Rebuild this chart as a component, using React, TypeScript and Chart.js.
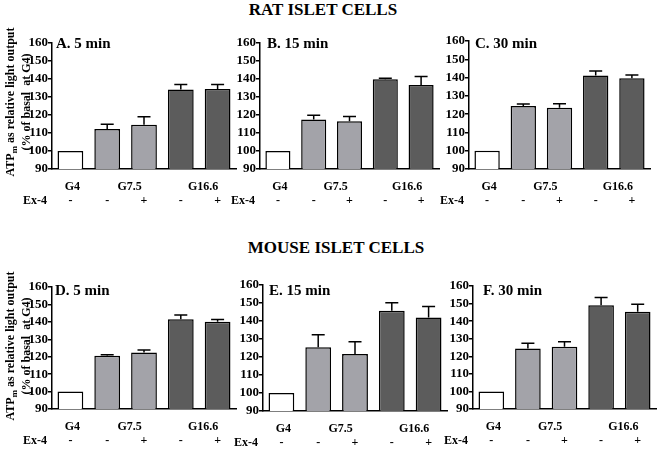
import React, { useEffect, useRef } from "react";
import { Chart, registerables } from "chart.js";

Chart.register(...registerables);

// ---------- data ----------
const categories = ["G4", "G7.5 -", "G7.5 +", "G16.6 -", "G16.6 +"];
const ex4Signs = ["-", "-", "+", "-", "+"];
const groupLabels = ["G4", "G7.5", "G16.6"];
const groupMembers = [[0], [1, 2], [3, 4]];
const yMin = 90;
const yMax = 160;
const yStep = 10;

const ratA5 = [100, 112.2, 114.6, 134.2, 134.4];
const ratA5Err = [0, 2.6, 4.4, 2.7, 2.5];
const ratB15 = [100, 117.5, 116.5, 139.8, 136.6];
const ratB15Err = [0, 2.4, 2.7, 0.6, 4.8];
const ratC30 = [100, 124.4, 123.5, 141.2, 139.6];
const ratC30Err = [0, 1.2, 2.2, 2.4, 1.8];
const mouseD5 = [100, 120.5, 122.4, 141.5, 140.0];
const mouseD5Err = [0, 0.6, 1.4, 2.5, 1.3];
const mouseE15 = [100, 125.4, 121.6, 145.7, 142.0];
const mouseE15Err = [0, 6.9, 6.9, 4.4, 6.0];
const mouseF30 = [100, 124.5, 125.4, 149.1, 145.4];
const mouseF30Err = [0, 2.9, 2.9, 4.4, 4.2];

const barColors = ["#ffffff", "#a3a3a9", "#a3a3a9", "#5c5c5c", "#5c5c5c"];
const FONT = '"Liberation Serif", "Times New Roman", serif';

type PanelCfg = {
  title: string;
  values: number[];
  errors: number[];
  axisX: number;
  top: number;
  bottom: number;
  right: number;
  titleX: number;
  titleY: number;
  yW: number;
};

const panels: PanelCfg[] = [
  { title: "A. 5 min", values: ratA5, errors: ratA5Err, axisX: 52, top: 43, bottom: 169, right: 236, titleX: 56, titleY: 48, yW: 52 },
  { title: "B. 15 min", values: ratB15, errors: ratB15Err, axisX: 260, top: 43, bottom: 169, right: 439, titleX: 267, titleY: 48, yW: 40 },
  { title: "C. 30 min", values: ratC30, errors: ratC30Err, axisX: 469, top: 41, bottom: 169, right: 650, titleX: 475, titleY: 48, yW: 40 },
  { title: "D. 5 min", values: mouseD5, errors: mouseD5Err, axisX: 52, top: 287, bottom: 409, right: 236, titleX: 55, titleY: 295, yW: 52 },
  { title: "E. 15 min", values: mouseE15, errors: mouseE15Err, axisX: 263, top: 285, bottom: 411, right: 447, titleX: 269, titleY: 295, yW: 40 },
  { title: "F. 30 min", values: mouseF30, errors: mouseF30Err, axisX: 473, top: 286, bottom: 409, right: 656, titleX: 483, titleY: 295, yW: 40 },
];

const PAD_TOP = 10;
const PAD_BOTTOM = 42;
const PAD_RIGHT = 4;

const annotPlugin = {
  id: "annot",
  afterDatasetsDraw(chart: any, _args: any, opts: any) {
    const p: PanelCfg = opts.panel;
    const cLeft: number = opts.cLeft;
    const cTop: number = opts.cTop;
    const { ctx, chartArea } = chart;
    const x = chart.scales.x;
    const y = chart.scales.y;
    ctx.save();
    // error bars (upper only)
    ctx.strokeStyle = "#000";
    ctx.lineWidth = 1.5;
    p.values.forEach((v, i) => {
      const e = p.errors[i];
      if (!e) return;
      const cx = x.getPixelForValue(i);
      const y0 = y.getPixelForValue(v);
      const y1 = y.getPixelForValue(v + e);
      ctx.beginPath();
      ctx.moveTo(cx, y0);
      ctx.lineTo(cx, y1);
      ctx.moveTo(cx - 6.5, y1);
      ctx.lineTo(cx + 6.5, y1);
      ctx.stroke();
    });
    // x labels
    ctx.fillStyle = "#000";
    ctx.font = `bold 12px ${FONT}`;
    ctx.textAlign = "center";
    ctx.textBaseline = "middle";
    ex4Signs.forEach((s, i) => {
      ctx.fillText(s, x.getPixelForValue(i), chartArea.bottom + 32);
    });
    groupLabels.forEach((g, gi) => {
      const m = groupMembers[gi];
      const avg = m.reduce((a, k) => a + x.getPixelForValue(k), 0) / m.length;
      ctx.fillText(g, avg + (m.length > 1 ? 4 : 2), chartArea.bottom + 18);
    });
    ctx.textAlign = "right";
    ctx.fillText("Ex-4", chartArea.left - 5, chartArea.bottom + 32);
    // panel title
    ctx.textAlign = "left";
    ctx.textBaseline = "alphabetic";
    ctx.font = `bold 15px ${FONT}`;
    ctx.fillText(p.title, p.titleX - cLeft, p.titleY - cTop);
    ctx.restore();
  },
};

function Panel({ p }: { p: PanelCfg }) {
  const ref = useRef<HTMLCanvasElement>(null);
  const cLeft = p.axisX - p.yW;
  const cTop = p.top - PAD_TOP;
  const width = p.right - cLeft + PAD_RIGHT;
  const height = p.bottom - p.top + PAD_TOP + PAD_BOTTOM;

  useEffect(() => {
    if (!ref.current) return;
    const chart = new Chart(ref.current, {
      type: "bar",
      data: {
        labels: categories,
        datasets: [
          {
            data: p.values,
            backgroundColor: barColors,
            borderColor: "#000",
            borderWidth: 1.5,
            barPercentage: 0.7,
            categoryPercentage: 1.0,
          },
        ],
      },
      options: {
        responsive: false,
        animation: false,
        devicePixelRatio: 1,
        layout: { padding: { top: PAD_TOP, bottom: PAD_BOTTOM, right: PAD_RIGHT, left: 0 } },
        plugins: {
          legend: { display: false },
          tooltip: { enabled: false },
          annot: { panel: p, cLeft, cTop },
        } as any,
        scales: {
          x: {
            ticks: { display: false },
            grid: { display: false },
            border: { display: true, color: "#000", width: 1.5 },
            afterFit: (s: any) => {
              s.height = 0;
            },
          },
          y: {
            min: yMin,
            max: yMax,
            ticks: {
              stepSize: yStep,
              autoSkip: false,
              color: "#000",
              padding: 0,
              font: { family: FONT, size: 13, weight: "bold" },
            },
            grid: {
              display: true,
              drawOnChartArea: false,
              drawTicks: true,
              tickLength: 4,
              color: "#000",
              lineWidth: 1.5,
            },
            border: { display: true, color: "#000", width: 1.5 },
            afterFit: (s: any) => {
              s.width = p.yW;
            },
          },
        },
      },
      plugins: [annotPlugin],
    });
    return () => chart.destroy();
  }, []);

  return (
    <canvas
      ref={ref}
      width={width}
      height={height}
      style={{ position: "absolute", left: cLeft, top: cTop, width, height }}
    />
  );
}

function YTitle({ cx, cy }: { cx: number; cy: number }) {
  const w = 170;
  const h = 24;
  return (
    <div
      style={{
        position: "absolute",
        left: cx - w / 2,
        top: cy - h / 2,
        width: w,
        height: h,
        transform: "rotate(-90deg)",
        transformOrigin: "center",
        font: `bold 12px ${FONT}`,
        lineHeight: "12px",
        textAlign: "center",
        whiteSpace: "pre",
        color: "#000",
      }}
    >
      <div>
        ATP<span style={{ fontSize: 9, verticalAlign: -3 }}>m</span> as relative light output
      </div>
      <div>{"(% of basal  at G4)"}</div>
    </div>
  );
}

function Heading({ text, cx, top }: { text: string; cx: number; top: number }) {
  return (
    <div
      style={{
        position: "absolute",
        left: cx - 150,
        top,
        width: 300,
        textAlign: "center",
        font: `bold 17px ${FONT}`,
        lineHeight: "17px",
        color: "#000",
        whiteSpace: "nowrap",
      }}
    >
      {text}
    </div>
  );
}

export default function App() {
  return (
    <div
      style={{
        position: "absolute",
        left: 0,
        top: 0,
        width: 661,
        height: 450,
        background: "#fff",
        overflow: "hidden",
      }}
    >
      {panels.map((p, i) => (
        <Panel key={i} p={p} />
      ))}
      <Heading text="RAT ISLET CELLS" cx={323} top={1} />
      <Heading text="MOUSE ISLET CELLS" cx={336} top={239} />
      <YTitle cx={16} cy={102} />
      <YTitle cx={16} cy={346} />
    </div>
  );
}
